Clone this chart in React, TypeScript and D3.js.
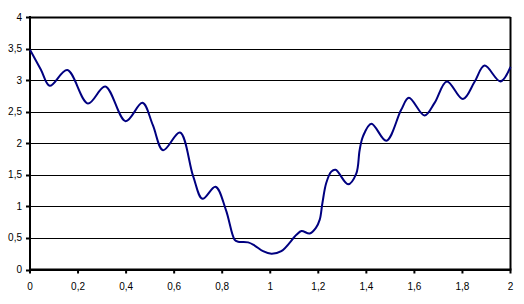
import React from "react";
import * as d3 from "d3";

const xs = [0, 0.045, 0.082, 0.155, 0.241, 0.313, 0.398, 0.468, 0.511, 0.554, 0.624, 0.679, 0.718, 0.772, 0.815, 0.852, 0.866, 0.908, 0.935, 0.97, 1.005, 1.046, 1.109, 1.13, 1.164, 1.19, 1.206, 1.217, 1.233, 1.254, 1.272, 1.324, 1.358, 1.372, 1.386, 1.421, 1.483, 1.545, 1.577, 1.642, 1.684, 1.735, 1.802, 1.85, 1.892, 1.958, 2.0];
const ys = [3.48, 3.17, 2.91, 3.16, 2.63, 2.9, 2.35, 2.64, 2.29, 1.89, 2.17, 1.48, 1.12, 1.31, 0.95, 0.47, 0.44, 0.43, 0.38, 0.29, 0.25, 0.29, 0.55, 0.61, 0.57, 0.66, 0.79, 1.05, 1.37, 1.55, 1.58, 1.35, 1.52, 1.89, 2.11, 2.31, 2.04, 2.53, 2.72, 2.44, 2.64, 2.98, 2.7, 2.97, 3.23, 2.98, 3.21];
const xTicks = [0, 0.2, 0.4, 0.6, 0.8, 1, 1.2, 1.4, 1.6, 1.8, 2];
const yTicks = [0, 0.5, 1, 1.5, 2, 2.5, 3, 3.5, 4];

const fmt = (v: number) => String(v).replace(".", ",");

export default function App() {
  const x = d3.scaleLinear().domain([0, 2]).range([30, 510.5]);
  const y = d3.scaleLinear().domain([0, 4]).range([269.5, 17]);
  const pts = xs.map((v, i) => [v, ys[i]] as [number, number]);
  const line = d3
    .line<[number, number]>()
    .x((d) => x(d[0]))
    .y((d) => y(d[1]))
    .curve(d3.curveCatmullRom.alpha(0.5));
  const font = "'Liberation Sans', Arial, sans-serif";
  return (
    <svg
      width={524}
      height={304}
      style={{ position: "absolute", left: 0, top: 0, background: "#fff" }}
    >
      <rect x={0} y={0} width={524} height={304} fill="#fff" />
      {yTicks.map((t) => {
        const yy = Math.round(y(t)) + 0.5;
        return (
          <line key={"g" + t} x1={x(0)} x2={x(2)} y1={yy} y2={yy} stroke="#000" strokeWidth={t === 4 ? 2 : 1} />
        );
      })}
      <line x1={x(2)} x2={x(2)} y1={y(4)} y2={y(0)} stroke="#000" strokeWidth={2} />
      <line x1={x(0)} x2={x(0)} y1={y(4) - 1} y2={y(0) + 1} stroke="#000" strokeWidth={2} />
      <line x1={x(0) - 1} x2={x(2) + 1} y1={y(0)} y2={y(0)} stroke="#000" strokeWidth={2} />
      {yTicks.map((t) => (
        <g key={"y" + t}>
          <line x1={x(0) - 4} x2={x(0)} y1={Math.round(y(t)) + 0.5} y2={Math.round(y(t)) + 0.5} stroke="#000" strokeWidth={2} />
          <text x={22} y={y(t) + 3.5} textAnchor="end" fontSize={10} fontFamily={font} fill="#000">
            {fmt(t)}
          </text>
        </g>
      ))}
      {xTicks.map((t) => (
        <g key={"x" + t}>
          <line x1={x(t)} x2={x(t)} y1={y(0)} y2={y(0) + 4} stroke="#000" strokeWidth={2} />
          <text x={x(t)} y={290} textAnchor="middle" fontSize={10} fontFamily={font} fill="#000">
            {fmt(t)}
          </text>
        </g>
      ))}
      <path d={line(pts) || ""} fill="none" stroke="#000080" strokeWidth={2} strokeLinejoin="round" />
    </svg>
  );
}
